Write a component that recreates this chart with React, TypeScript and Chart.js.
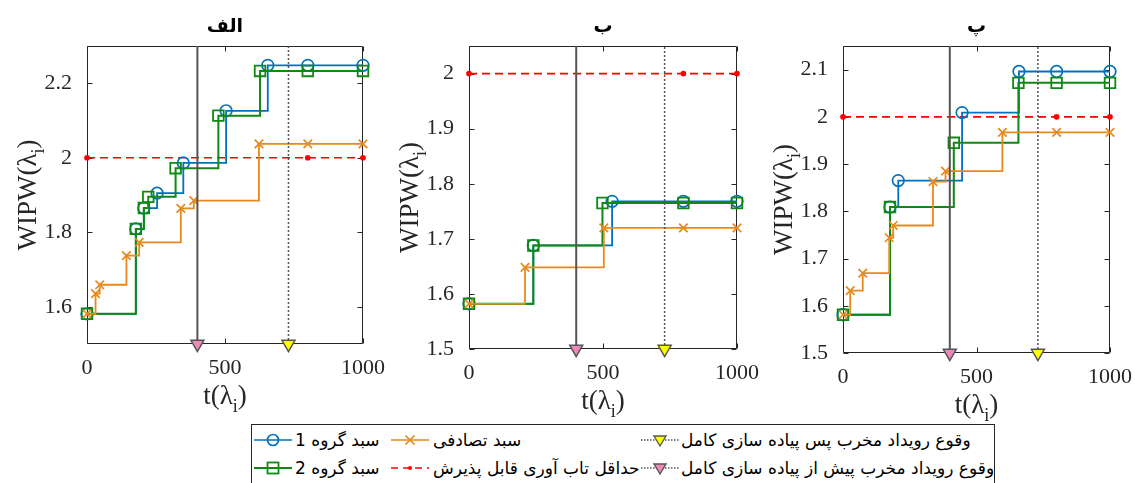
import React, { useEffect, useRef } from "react";
import { Chart, registerables } from "chart.js";

Chart.register(...registerables);

// ---------------- DATA ----------------
const panelTitles = ["الف", "ب", "پ"];
const xTicks = [0, 500, 1000];
const xMin = 0;
const xMax = 1000;
const eventBeforeT = 400; // وقوع رویداد مخرب پیش از پیاده سازی کامل
const eventAfterT = 730; // وقوع رویداد مخرب پس پیاده سازی کامل
const minAcceptable = 2;
const minAcceptableMarkT = [0, 800, 1000];

// Panel الف
const a_g1_t = [0, 177, 206, 254, 349, 504, 655, 800, 1000];
const a_g1_y = [1.581, 1.809, 1.865, 1.905, 1.986, 2.126, 2.248, 2.248, 2.248];
const a_g2_t = [0, 177, 206, 222, 321, 476, 627, 800, 1000];
const a_g2_y = [1.581, 1.809, 1.865, 1.895, 1.972, 2.113, 2.233, 2.233, 2.233];
const a_rnd_t = [0, 31, 46, 143, 189, 340, 387, 623, 800, 1000];
const a_rnd_y = [1.581, 1.635, 1.659, 1.737, 1.773, 1.864, 1.885, 2.037, 2.037, 2.037];
const a_yRange = [1.5, 2.3];
const a_yTicks = [1.6, 1.8, 2, 2.2];

// Panel ب
const b_g1_t = [0, 240, 534, 800, 1000];
const b_g1_y = [1.582, 1.688, 1.768, 1.768, 1.768];
const b_g2_t = [0, 240, 498, 800, 1000];
const b_g2_y = [1.582, 1.688, 1.765, 1.765, 1.765];
const b_rnd_t = [0, 209, 503, 800, 1000];
const b_rnd_y = [1.582, 1.648, 1.72, 1.72, 1.72];
const b_yRange = [1.5, 2.05];
const b_yTicks = [1.5, 1.6, 1.7, 1.8, 1.9, 2];

// Panel پ
const c_g1_t = [0, 176, 207, 446, 659, 800, 1000];
const c_g1_y = [1.581, 1.809, 1.865, 2.009, 2.096, 2.096, 2.096];
const c_g2_t = [0, 176, 415, 657, 800, 1000];
const c_g2_y = [1.581, 1.809, 1.945, 2.072, 2.072, 2.072];
const c_rnd_t = [0, 27, 74, 173, 188, 337, 384, 597, 800, 1000];
const c_rnd_y = [1.581, 1.632, 1.669, 1.744, 1.77, 1.863, 1.885, 1.967, 1.967, 1.967];
const c_yRange = [1.5, 2.15];
const c_yTicks = [1.5, 1.6, 1.7, 1.8, 1.9, 2, 2.1];

// Legend labels
const lblGroup1 = "سبد گروه 1";
const lblGroup2 = "سبد گروه 2";
const lblRandom = "سبد تصادفی";
const lblMinAcc = "حداقل تاب آوری قابل پذیرش";
const lblAfter = "وقوع رویداد مخرب پس پیاده سازی کامل";
const lblBefore = "وقوع رویداد مخرب پیش از پیاده سازی کامل";

// ---------------- STYLE / LAYOUT ----------------
const W = 1135;
const H = 483;
const Y_AXIS_W = 60;
const X_AXIS_H = 60;
const C_BLUE = "#0072BD";
const C_GREEN = "#0E8A12";
const C_ORANGE = "#E8891C";
const C_RED = "#FF0000";
const C_GRAY = "#555555";
const C_PINK = "#EE88BA";
const C_YELLOW = "#FFFF00";
const C_AXIS = "#262626";

type PanelDef = {
  title: string;
  g1t: number[]; g1y: number[];
  g2t: number[]; g2y: number[];
  rt: number[]; ry: number[];
  yRange: number[]; yTicks: number[];
  area: { left: number; top: number; right: number; bottom: number };
};

const panels: PanelDef[] = [
  { title: panelTitles[0], g1t: a_g1_t, g1y: a_g1_y, g2t: a_g2_t, g2y: a_g2_y, rt: a_rnd_t, ry: a_rnd_y,
    yRange: a_yRange, yTicks: a_yTicks, area: { left: 87, top: 46, right: 363, bottom: 344 } },
  { title: panelTitles[1], g1t: b_g1_t, g1y: b_g1_y, g2t: b_g2_t, g2y: b_g2_y, rt: b_rnd_t, ry: b_rnd_y,
    yRange: b_yRange, yTicks: b_yTicks, area: { left: 469, top: 46, right: 737, bottom: 349 } },
  { title: panelTitles[2], g1t: c_g1_t, g1y: c_g1_y, g2t: c_g2_t, g2y: c_g2_y, rt: c_rnd_t, ry: c_rnd_y,
    yRange: c_yRange, yTicks: c_yTicks, area: { left: 843, top: 46, right: 1112, bottom: 353 } },
];

const zip = (t: number[], y: number[]) => t.map((v, i) => ({ x: v, y: y[i] }));

function drawSubLabel(ctx: CanvasRenderingContext2D, main: string, sub: string, close: string,
  x: number, y: number, rotate: boolean) {
  ctx.save();
  ctx.translate(x, y);
  if (rotate) ctx.rotate(-Math.PI / 2);
  const big = '27px "Liberation Serif"';
  const small = '18px "Liberation Serif"';
  ctx.font = big;
  const w1 = ctx.measureText(main).width;
  const w3 = ctx.measureText(close).width;
  ctx.font = small;
  const w2 = ctx.measureText(sub).width;
  let cx = -(w1 + w2 + w3) / 2;
  ctx.textAlign = "left";
  ctx.textBaseline = "alphabetic";
  ctx.fillStyle = C_AXIS;
  ctx.font = big;
  ctx.fillText(main, cx, 9);
  cx += w1;
  ctx.font = small;
  ctx.fillText(sub, cx, 17);
  cx += w2;
  ctx.font = big;
  ctx.fillText(close, cx, 9);
  ctx.restore();
}

const decorPlugin = {
  id: "decor",
  beforeDatasetsDraw(chart: any) {
    const { ctx, chartArea: a, scales } = chart;
    const yTicks: number[] = chart.options.plugins.decor.yTicks;
    ctx.save();
    ctx.strokeStyle = C_AXIS;
    ctx.lineWidth = 1;
    const L = Math.round(a.left) + 0.5;
    const R = Math.round(a.right) - 0.5;
    const T = Math.round(a.top) + 0.5;
    const B = Math.round(a.bottom) - 0.5;
    ctx.beginPath();
    ctx.rect(L, T, R - L, B - T);
    const tl = 5;
    for (const v of yTicks) {
      const py = Math.round(scales.y.getPixelForValue(v)) + 0.5;
      ctx.moveTo(L, py); ctx.lineTo(L + tl, py);
      ctx.moveTo(R, py); ctx.lineTo(R - tl, py);
    }
    for (const v of xTicks) {
      const px = Math.round(scales.x.getPixelForValue(v)) + 0.5;
      ctx.moveTo(px, B); ctx.lineTo(px, B - tl);
      ctx.moveTo(px, T); ctx.lineTo(px, T + tl);
    }
    ctx.stroke();
    ctx.restore();
  },
  afterDraw(chart: any) {
    const { ctx, chartArea: a } = chart;
    const title: string = chart.options.plugins.decor.title;
    const cx = (a.left + a.right) / 2;
    ctx.save();
    ctx.fillStyle = "#000";
    ctx.font = 'bold 19px "DejaVu Sans"';
    ctx.textAlign = "center";
    ctx.textBaseline = "middle";
    ctx.fillText(title, cx, 27);
    ctx.restore();
    drawSubLabel(ctx, "WIPW(λ", "i", ")", a.left - 60, (a.top + a.bottom) / 2, true);
    drawSubLabel(ctx, "t(λ", "i", ")", cx, a.bottom + 51, false);
  },
};

function PanelChart({ p }: { p: PanelDef }) {
  const ref = useRef<HTMLCanvasElement | null>(null);
  useEffect(() => {
    if (!ref.current) return;
    const [yMin, yMax] = p.yRange;
    const vline = (t: number, dash: number[], fillC: string) => ({
      data: [{ x: t, y: yMin }, { x: t, y: yMax }],
      borderColor: C_GRAY,
      borderWidth: dash.length ? 1.5 : 2,
      borderDash: dash,
      pointStyle: "triangle",
      rotation: 180,
      pointRadius: [7.5, 0],
      pointBackgroundColor: fillC,
      pointBorderColor: C_GRAY,
      pointBorderWidth: 1.5,
      clip: false,
    });
    const chart = new Chart(ref.current, {
      type: "line",
      data: {
        datasets: [
          vline(eventBeforeT, [], C_PINK),
          vline(eventAfterT, [2, 2], C_YELLOW),
          {
            data: zip(p.rt, p.ry), stepped: "before", borderColor: C_ORANGE, borderWidth: 1.8,
            pointStyle: "crossRot", pointRadius: 6, pointBorderColor: C_ORANGE, pointBorderWidth: 1.7,
            pointBackgroundColor: "transparent", clip: false,
          },
          {
            data: zip(p.g2t, p.g2y), stepped: "before", borderColor: C_GREEN, borderWidth: 2,
            pointStyle: "rect", pointRadius: 7.5, pointBorderColor: C_GREEN, pointBorderWidth: 1.8,
            pointBackgroundColor: "transparent", clip: false,
          },
          {
            data: zip(p.g1t, p.g1y), stepped: "before", borderColor: C_BLUE, borderWidth: 1.8,
            pointStyle: "circle", pointRadius: 5.8, pointBorderColor: C_BLUE, pointBorderWidth: 1.7,
            pointBackgroundColor: "transparent", clip: false,
          },
          {
            data: minAcceptableMarkT.map((t) => ({ x: t, y: minAcceptable })),
            borderColor: C_RED, borderWidth: 1.7, borderDash: [8, 5],
            pointStyle: "circle", pointRadius: 2, pointBackgroundColor: C_RED, pointBorderColor: C_RED,
            clip: false,
          },
        ] as any,
      },
      options: {
        animation: false,
        responsive: false,
        events: [],
        layout: {
          padding: {
            left: p.area.left - Y_AXIS_W,
            top: p.area.top,
            right: W - p.area.right,
            bottom: H - p.area.bottom - X_AXIS_H,
          },
        },
        plugins: {
          legend: { display: false },
          tooltip: { enabled: false },
          title: { display: false },
          decor: { title: p.title, yTicks: p.yTicks },
        } as any,
        scales: {
          x: {
            type: "linear", min: xMin, max: xMax,
            grid: { display: false }, border: { display: false },
            afterBuildTicks: (s: any) => { s.ticks = xTicks.map((v) => ({ value: v })); },
            afterFit: (s: any) => { s.height = X_AXIS_H; },
            ticks: {
              font: { family: '"Liberation Serif"', size: 22 }, color: C_AXIS, padding: 3,
              maxRotation: 0, autoSkip: false,
              callback: (v: any) => String(v),
            },
          },
          y: {
            type: "linear", min: yMin, max: yMax,
            grid: { display: false }, border: { display: false },
            afterBuildTicks: (s: any) => { s.ticks = p.yTicks.map((v) => ({ value: v })); },
            afterFit: (s: any) => { s.width = Y_AXIS_W; },
            ticks: {
              font: { family: '"Liberation Serif"', size: 22 }, color: C_AXIS, padding: 7,
              autoSkip: false,
              callback: (v: any) => String(Number((+v).toFixed(2))),
            },
          },
        } as any,
      },
      plugins: [decorPlugin as any],
    });
    return () => chart.destroy();
  }, [p]);
  return (
    <canvas ref={ref} width={W} height={H}
      style={{ position: "absolute", left: 0, top: 0, width: W, height: H }} />
  );
}

function Icon({ kind }: { kind: string }) {
  const w = 38, h = 20, m = h / 2, c = w / 2;
  let body: any = null;
  if (kind === "g1") body = (<g stroke={C_BLUE} strokeWidth={1.7} fill="none">
    <line x1={0} y1={m} x2={w} y2={m} /><circle cx={c} cy={m} r={5.5} /></g>);
  if (kind === "g2") body = (<g stroke={C_GREEN} strokeWidth={1.8} fill="none">
    <line x1={0} y1={m} x2={w} y2={m} /><rect x={c - 5.5} y={m - 5.5} width={11} height={11} /></g>);
  if (kind === "rnd") body = (<g stroke={C_ORANGE} strokeWidth={1.7} fill="none">
    <line x1={0} y1={m} x2={w} y2={m} />
    <line x1={c - 4.5} y1={m - 4.5} x2={c + 4.5} y2={m + 4.5} />
    <line x1={c - 4.5} y1={m + 4.5} x2={c + 4.5} y2={m - 4.5} /></g>);
  if (kind === "min") body = (<g>
    <line x1={0} y1={m} x2={w} y2={m} stroke={C_RED} strokeWidth={1.7} strokeDasharray="7 5" />
    <circle cx={c} cy={m} r={2} fill={C_RED} /></g>);
  if (kind === "after" || kind === "before") body = (<g>
    <line x1={0} y1={m} x2={w} y2={m} stroke={C_GRAY} strokeWidth={1.4} strokeDasharray="1.5 1.5" />
    <polygon points={`${c - 6},${m - 4} ${c + 6},${m - 4} ${c},${m + 6}`}
      fill={kind === "after" ? C_YELLOW : C_PINK} stroke={C_GRAY} strokeWidth={1.4} /></g>);
  return <svg width={w} height={h} style={{ display: "block" }}>{body}</svg>;
}

const LEG_LEFT = 251;
const LEG_TOP = 424;
const legendItems = [
  { kind: "g1", label: lblGroup1, iconX: 254, textX: 295, y: 440 },
  { kind: "rnd", label: lblRandom, iconX: 391, textX: 433, y: 440 },
  { kind: "after", label: lblAfter, iconX: 641, textX: 681, y: 440 },
  { kind: "g2", label: lblGroup2, iconX: 254, textX: 295, y: 468 },
  { kind: "min", label: lblMinAcc, iconX: 391, textX: 433, y: 468 },
  { kind: "before", label: lblBefore, iconX: 641, textX: 681, y: 468 },
];

function Legend() {
  return (
    <div style={{ position: "absolute", left: 0, top: 0, width: W, height: H, pointerEvents: "none" }}>
      <div style={{ position: "absolute", left: LEG_LEFT, top: LEG_TOP, width: 995 - LEG_LEFT, height: 90,
        border: `1px solid ${C_AXIS}`, background: "#fff", boxSizing: "border-box" }} />
      {legendItems.map((it, i) => (
        <React.Fragment key={i}>
          <div style={{ position: "absolute", left: it.iconX, top: it.y - 10 }}><Icon kind={it.kind} /></div>
          <span dir="rtl" style={{ position: "absolute", left: it.textX, top: it.y - 12, height: 24, lineHeight: "24px",
            fontFamily: '"DejaVu Sans", sans-serif', fontSize: 17, color: "#000", whiteSpace: "nowrap",
            background: "#fff" }}>{it.label}</span>
        </React.Fragment>
      ))}
    </div>
  );
}

export default function App() {
  return (
    <div style={{ position: "absolute", left: 0, top: 0, width: W, height: H, background: "#fff", overflow: "hidden" }}>
      {panels.map((p, i) => <PanelChart key={i} p={p} />)}
      <Legend />
    </div>
  );
}
